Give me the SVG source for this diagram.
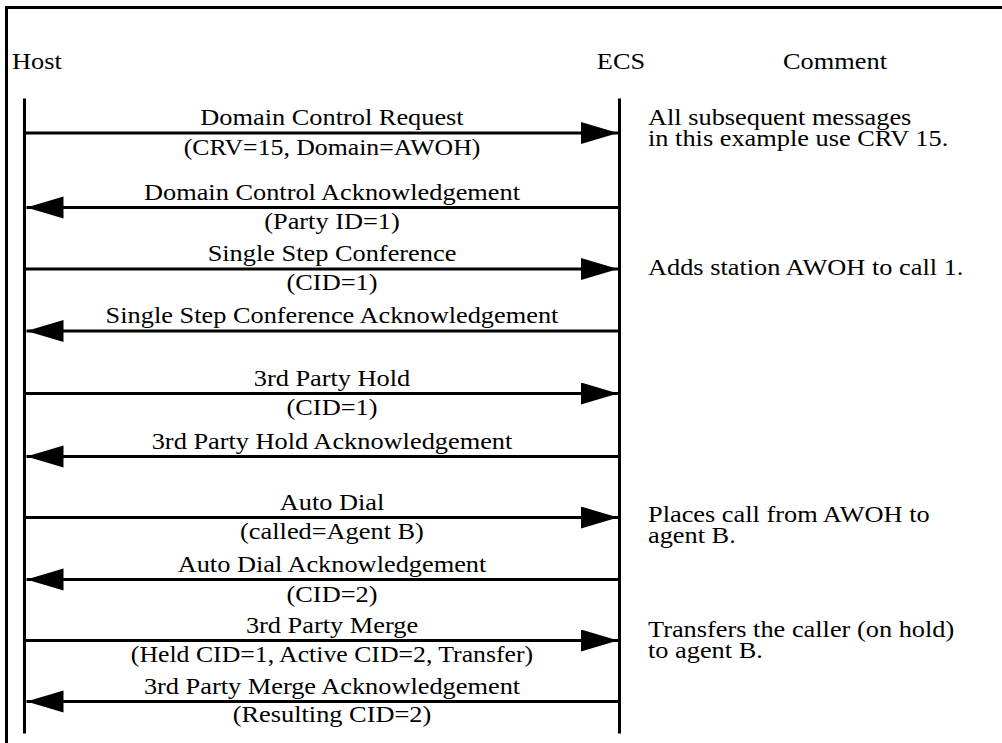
<svg xmlns="http://www.w3.org/2000/svg" width="1002" height="743" viewBox="0 0 1002 743">
<style>
  text { font-family: "Liberation Serif", "Times New Roman", serif; font-size: 23px; fill: #000; }
  .c { text-anchor: middle; }
  .life { stroke: #000; stroke-width: 3; fill: none; }
  .msg { stroke: #000; stroke-width: 3; fill: none; marker-end: url(#ah); }
  .frame { stroke: #000; stroke-width: 3; fill: none; }
</style>
<defs>
  <marker id="ah" markerUnits="userSpaceOnUse" markerWidth="38" markerHeight="23" refX="37" refY="11" orient="auto">
    <path d="M0,0 L37,11 L0,22 Z" fill="#000"/>
  </marker>
</defs>
<rect width="1002" height="743" fill="#fff"/>
<path class="frame" d="M6.5,743 V7.5 H1002"/>

<g id="host">
  <text transform="translate(12 68.5) scale(1.146 1)">Host</text>
  <line class="life" x1="24.5" y1="98.5" x2="24.5" y2="733.5"/>
</g>
<g id="ecs">
  <text class="c" transform="translate(621 68.5) scale(1.146 1)">ECS</text>
  <line class="life" x1="619.5" y1="98.5" x2="619.5" y2="733.5"/>
</g>
<g id="comment-header">
  <text class="c" transform="translate(835 68.5) scale(1.146 1)">Comment</text>
</g>

<g id="connectors">
  <line class="msg" x1="26" y1="133" x2="618" y2="133"/>
  <text class="c" transform="translate(332 125) scale(1.146 1)">Domain Control Request</text>
  <text class="c" transform="translate(332 155) scale(1.12 1)">(CRV=15, Domain=AWOH)</text>

  <line class="msg" x1="618" y1="207.5" x2="26.5" y2="207.5"/>
  <text class="c" transform="translate(332 199.5) scale(1.146 1)">Domain Control Acknowledgement</text>
  <text class="c" transform="translate(332 228.5) scale(1.146 1)">(Party ID=1)</text>

  <line class="msg" x1="26" y1="269" x2="618" y2="269"/>
  <text class="c" transform="translate(332 261) scale(1.146 1)">Single Step Conference</text>
  <text class="c" transform="translate(332 290) scale(1.146 1)">(CID=1)</text>

  <line class="msg" x1="618" y1="331" x2="26.5" y2="331"/>
  <text class="c" transform="translate(332 323) scale(1.146 1)">Single Step Conference Acknowledgement</text>

  <line class="msg" x1="26" y1="393.5" x2="618" y2="393.5"/>
  <text class="c" transform="translate(332 385.5) scale(1.146 1)">3rd Party Hold</text>
  <text class="c" transform="translate(332 414.5) scale(1.146 1)">(CID=1)</text>

  <line class="msg" x1="618" y1="456.5" x2="26.5" y2="456.5"/>
  <text class="c" transform="translate(332 448.5) scale(1.146 1)">3rd Party Hold Acknowledgement</text>

  <line class="msg" x1="26" y1="517.5" x2="618" y2="517.5"/>
  <text class="c" transform="translate(332 509.5) scale(1.146 1)">Auto Dial</text>
  <text class="c" transform="translate(332 539) scale(1.146 1)">(called=Agent B)</text>

  <line class="msg" x1="618" y1="579.5" x2="26.5" y2="579.5"/>
  <text class="c" transform="translate(332 571.5) scale(1.146 1)">Auto Dial Acknowledgement</text>
  <text class="c" transform="translate(332 601.5) scale(1.146 1)">(CID=2)</text>

  <line class="msg" x1="26" y1="640.5" x2="618" y2="640.5"/>
  <text class="c" transform="translate(332 632.5) scale(1.146 1)">3rd Party Merge</text>
  <text class="c" transform="translate(332 661.5) scale(1.12 1)">(Held CID=1, Active CID=2, Transfer)</text>

  <line class="msg" x1="618" y1="701.5" x2="26.5" y2="701.5"/>
  <text class="c" transform="translate(332 693.5) scale(1.146 1)">3rd Party Merge Acknowledgement</text>
  <text class="c" transform="translate(332 722) scale(1.146 1)">(Resulting CID=2)</text>
</g>

<g id="comment-1">
  <text transform="translate(648 125) scale(1.146 1)"><tspan x="0" y="0">All subsequent messages</tspan><tspan x="0" dy="21">in this example use CRV 15.</tspan></text>
</g>
<g id="comment-2">
  <text transform="translate(648 275) scale(1.146 1)">Adds station AWOH to call 1.</text>
</g>
<g id="comment-3">
  <text transform="translate(648 522) scale(1.146 1)"><tspan x="0" y="0">Places call from AWOH to</tspan><tspan x="0" dy="21">agent B.</tspan></text>
</g>
<g id="comment-4">
  <text transform="translate(648 637) scale(1.146 1)"><tspan x="0" y="0">Transfers the caller (on hold)</tspan><tspan x="0" dy="21">to agent B.</tspan></text>
</g>
</svg>
